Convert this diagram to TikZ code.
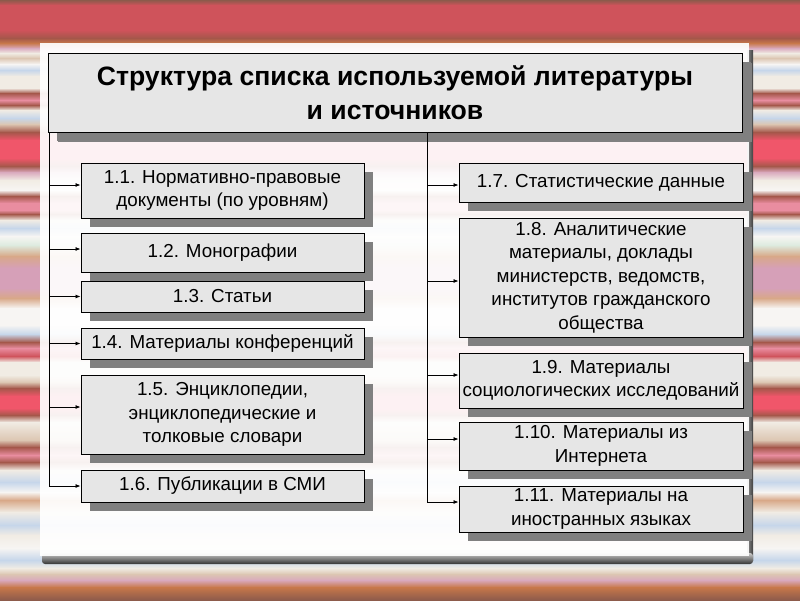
\documentclass[tikz,border=0pt]{standalone}
\usepackage{fontspec}
\setmainfont{Liberation Sans}
\usetikzlibrary{shadows,arrows.meta}
\definecolor{brownD}{HTML}{8C5A4B}
\definecolor{redT}{HTML}{CF535B}
\definecolor{brownR}{HTML}{A4574A}
\definecolor{orangeS}{HTML}{C8784A}
\definecolor{lilac}{HTML}{D9A9BD}
\definecolor{cream}{HTML}{F1ECE4}
\definecolor{whiteS}{HTML}{F7F5F3}
\definecolor{lblue}{HTML}{C6D6EA}
\definecolor{beige}{HTML}{DCC6B2}
\definecolor{pinkS}{HTML}{E98DA0}
\definecolor{redP}{HTML}{F0566A}
\definecolor{lgreen}{HTML}{DDEBDF}
\definecolor{peach}{HTML}{D8A888}
\definecolor{lilac2}{HTML}{D6A0B8}
\definecolor{boxgray}{HTML}{E6E6E6}
\definecolor{shadowgray}{HTML}{808080}
\tikzset{
  boxstyle/.style={draw=black, line width=0.9pt, fill=boxgray, align=center,
    inner sep=2pt, font=\fontsize{18.8}{23.5}\selectfont,
    drop shadow={shadow xshift=9pt, shadow yshift=-9pt, fill=shadowgray, opacity=1}},
  titlestyle/.style={boxstyle, font=\fontsize{26.6}{34}\selectfont\bfseries,
    drop shadow={shadow xshift=10pt, shadow yshift=-10pt, fill=shadowgray, opacity=1}},
  conn/.style={draw=black, line width=0.8pt},
  arr/.style={conn, -{Latex[length=5pt,width=4pt]}}
}
\begin{document}
\begin{tikzpicture}[x=1pt,y=-1pt]
\useasboundingbox (0,0) rectangle (800,600);
% background stripes (soft gradients between key colours)
\foreach \y/\c [remember=\y as \py (initially 0), remember=\c as \pc (initially brownD)] in
  {0/brownD,5/redT,30/redT,38/brownR,43/orangeS,48/lilac,53/cream,58/beige,64/whiteS,70/lblue,
   76/cream,88/cream,93/brownR,100/pinkS,105/brownR,110/cream,118/lblue,124/beige,132/brownR,
   140/redP,158/redP,166/brownR,172/lilac,180/cream,190/whiteS,196/brownR,203/pinkS,210/pinkS,
   214/brownR,220/cream,228/lblue,236/whiteS,245/lgreen,256/peach,268/lilac2,288/lilac2,298/peach,
   308/whiteS,325/whiteS,334/lblue,342/brownR,348/pinkS,356/redT,362/cream,375/cream,382/beige,
   388/brownR,396/redP,408/redP,415/brownR,422/cream,440/beige,447/brownR,455/pinkS,462/brownR,
   470/cream,482/lblue,492/whiteS,500/peach,512/cream,525/lblue,535/cream,548/whiteS,560/lblue,
   568/cream,574/beige,580/lilac,587/orangeS,600/brownD}
  {\shade[top color=\pc, bottom color=\c] (0,\py) rectangle (800,\y+0.3);}
% panel shadow and panel
\shade[left color=black!45, right color=black!75] (747,50) rectangle (753,560);
\shade[top color=black!20, bottom color=black!80, rounded corners=3pt] (42,553) rectangle (753,564);
\fill[white, opacity=0.92] (40,43) rectangle (749,556);
% title
\node[titlestyle, minimum width=694pt, minimum height=79pt] (title) at (395,92.5)
  {Структура списка используемой литературы\\и источников};
% left column
\node[boxstyle, minimum width=283pt, minimum height=55pt] (b11) at (222.5,190.5) {1.1. Нормативно-правовые\\документы (по уровням)};
\node[boxstyle, minimum width=283pt, minimum height=39pt] (b12) at (222.5,252.5) {1.2. Монографии};
\node[boxstyle, minimum width=283pt, minimum height=31pt] (b13) at (222.5,296.5) {1.3. Статьи};
\node[boxstyle, minimum width=283pt, minimum height=31pt] (b14) at (222.5,343.5) {1.4. Материалы конференций};
\node[boxstyle, minimum width=283pt, minimum height=79pt] (b15) at (222.5,414.5) {1.5. Энциклопедии,\\энциклопедические и\\толковые словари};
\node[boxstyle, minimum width=283pt, minimum height=32pt] (b16) at (222.5,486) {1.6. Публикации в СМИ};
% right column
\node[boxstyle, minimum width=284pt, minimum height=39pt] (b17) at (601,182.5) {1.7. Статистические данные};
\node[boxstyle, minimum width=284pt, minimum height=119pt] (b18) at (601,277.5) {1.8. Аналитические\\материалы, доклады\\министерств, ведомств,\\институтов гражданского\\общества};
\node[boxstyle, minimum width=284pt, minimum height=55pt] (b19) at (601,380.5) {1.9. Материалы\\социологических исследований};
\node[boxstyle, minimum width=284pt, minimum height=48pt] (b110) at (601,446) {1.10. Материалы из\\Интернета};
\node[boxstyle, minimum width=284pt, minimum height=46pt] (b111) at (601,509) {1.11. Материалы на\\иностранных языках};
% arrow end points
\coordinate (tl) at (49,0);
\coordinate (tr) at (427,0);
\coordinate (a11) at ([yshift=5.5pt]b11.west);
\coordinate (a12) at ([yshift=3.5pt]b12.west);
\coordinate (a13) at (b13.west);
\coordinate (a14) at (b14.west);
\coordinate (a15) at ([yshift=7.5pt]b15.west);
\coordinate (a16) at (b16.west);
\coordinate (a17) at ([yshift=-2.5pt]b17.west);
\coordinate (a18) at ([yshift=-3.5pt]b18.west);
\coordinate (a19) at ([yshift=5.5pt]b19.west);
\coordinate (a110) at ([yshift=7pt]b110.west);
\coordinate (a111) at ([yshift=7pt]b111.west);
% trunks
\draw[conn] (title.south -| tl) -- (tl |- a16);
\draw[conn] (title.south -| tr) -- (tr |- a111);
% arrows
\foreach \a in {a11,a12,a13,a14,a15,a16}
  \draw[arr] (tl |- \a) -- (\a);
\foreach \a in {a17,a18,a19,a110,a111}
  \draw[arr] (tr |- \a) -- (\a);
\end{tikzpicture}
\end{document}
